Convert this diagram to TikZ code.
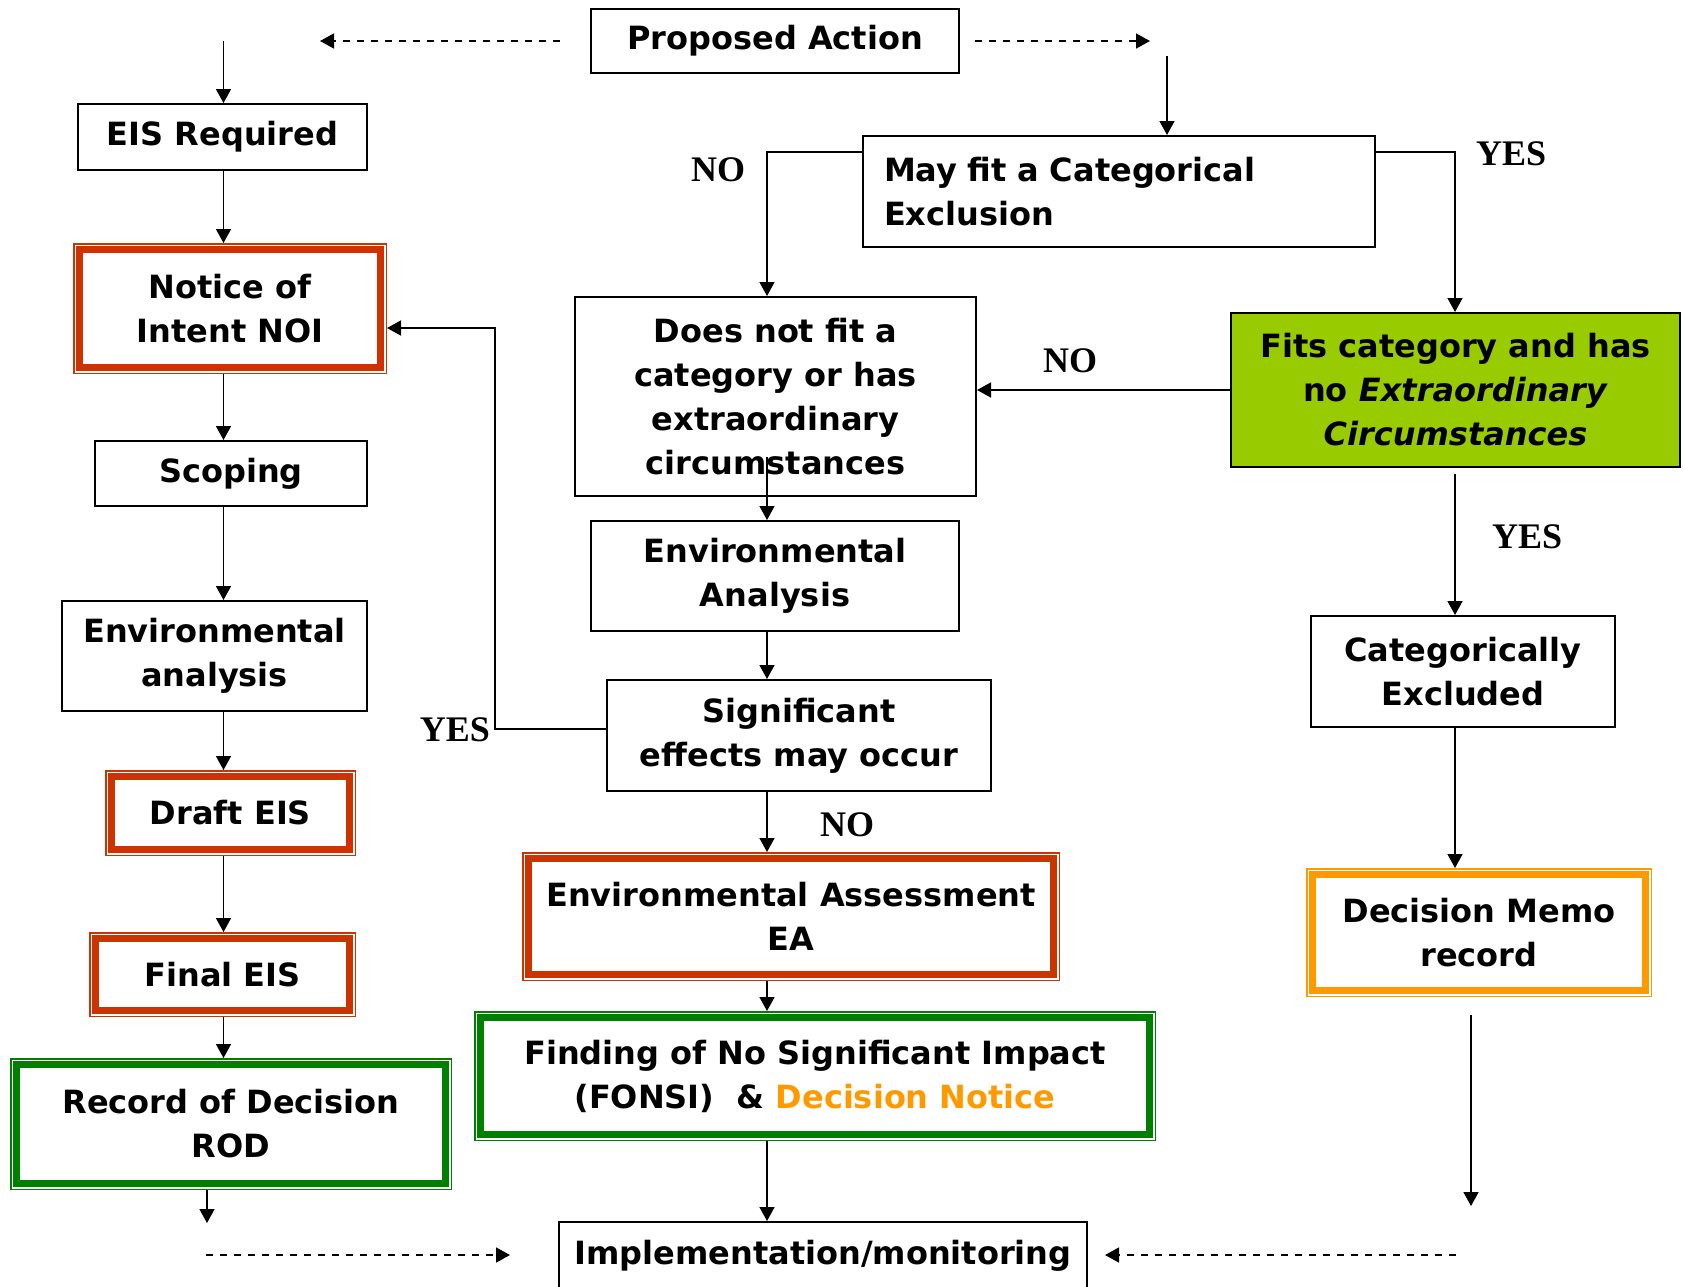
\documentclass[tikz,border=0pt]{standalone}
\usepackage{fontspec}
\setmainfont{DejaVu Sans}
\newfontfamily\labelfont{Liberation Serif}
\usetikzlibrary{arrows.meta,calc}

\definecolor{eisred}{RGB}{204,51,0}
\definecolor{rodgreen}{RGB}{0,128,0}
\definecolor{memoorange}{RGB}{255,153,0}
\definecolor{fitsgreen}{RGB}{153,204,0}

\tikzset{
  flowbox/.style={draw, line width=1pt, fill=white, inner sep=4pt, align=center,
    font=\fontsize{16}{22}\selectfont\bfseries},
  dblbox/.style={flowbox, draw=#1, line width=3.5pt, outer sep=3.25pt,
    preaction={draw=#1, line width=6.5pt},
    preaction={draw=white, line width=5pt}},
  link/.style={line width=0.75pt, -{Triangle[length=7pt,width=7.5pt]}},
  dashlink/.style={link, dash pattern=on 3.5pt off 3.5pt},
  answer/.style={font=\fontsize{18}{18}\selectfont\labelfont\bfseries}
}

\begin{document}
\begin{tikzpicture}[x=0.5pt,y=0.5pt,yscale=-1]
	\useasboundingbox (0,0) rectangle (1685,1286);
	\clip (0,0) rectangle (1685,1286);
	% top
	\node[flowbox, minimum width=184pt, minimum height=32pt] (pa) at (775,41) {Proposed Action};
	\coordinate (dashl1) at (560,41);
	\coordinate (dashl2) at (320,41);
	\coordinate (dashr1) at (975,41);
	\coordinate (dashr2) at (1150,41);
	\coordinate (eistop) at (223.5,41);
	\coordinate (cetop) at (1167,56);
	\coordinate (leftx) at (223.5,0);
	\coordinate (midx) at (767,0);
	\draw[dashlink] (dashl1) -- (dashl2);
	\draw[dashlink] (dashr1) -- (dashr2);
	% EIS column
	\node[flowbox, minimum width=144.5pt, minimum height=33pt] (eis) at (222.5,137) {EIS Required};
	\node[dblbox=eisred, minimum width=150.5pt, minimum height=59pt] (noi) at (230,308.5) {Notice of\\Intent NOI};
	\node[flowbox, minimum width=136pt, minimum height=32.5pt] (scoping) at (231,473.5) {Scoping};
	\node[flowbox, minimum width=152.5pt, minimum height=55pt] (envan) at (214.5,656) {Environmental\\analysis};
	\node[dblbox=eisred, minimum width=119pt, minimum height=36.5pt] (draft) at (230.5,813) {Draft EIS};
	\node[dblbox=eisred, minimum width=127pt, minimum height=36pt] (final) at (222.5,974.5) {Final EIS};
	\node[dblbox=rodgreen, minimum width=214.5pt, minimum height=59.5pt] (rod) at (231,1124) {Record of Decision\\ROD};
	\coordinate (rodout) at (207,1223);
	\draw[link] (eistop) -- (eistop |- eis.north);
	\draw[link] (eis.south -| leftx) -- (noi.north -| leftx);
	\draw[link] (noi.south -| leftx) -- (scoping.north -| leftx);
	\draw[link] (scoping.south -| leftx) -- (envan.north -| leftx);
	\draw[link] (envan.south -| leftx) -- (draft.north -| leftx);
	\draw[link] (draft.south -| leftx) -- (final.north -| leftx);
	\draw[link] (final.south -| leftx) -- (rod.north -| leftx);
	\draw[link] (rod.south -| rodout) -- (rodout);
	% EA column
	\node[flowbox, align=left, text width=235pt, inner xsep=10.5pt, minimum height=55.5pt] (mayfit) at (1119,191.5) {May fit a Categorical\\Exclusion};
	\node[flowbox, minimum width=200.5pt, minimum height=99.5pt] (dnf) at (775.5,396.5) {Does not fit a\\category or has\\extraordinary\\circumstances};
	\node[flowbox, minimum width=184pt, minimum height=55pt] (envanal) at (775,576) {Environmental\\Analysis};
	\node[flowbox, minimum width=192pt, minimum height=55.5pt] (signif) at (799,735.5) {Significant\\effects may occur};
	\node[dblbox=eisred, minimum width=262.5pt, minimum height=58pt] (ea) at (791,916.5) {Environmental Assessment\\EA};
	\node[dblbox=rodgreen, minimum width=334.5pt, minimum height=58.5pt] (fonsi) at (815,1076) {Finding of No Significant Impact\\(FONSI)~ \& \textcolor{memoorange}{Decision Notice}};
	\node[flowbox, minimum width=264pt, minimum height=34pt] (impl) at (823,1256) {Implementation/monitoring};
	\coordinate (noturn) at (767,152);
	\coordinate (yesturn) at (1455,152);
	\coordinate (yesup) at (495,729);
	\coordinate (noiin) at (495,328);
	\draw[link] (cetop) -- (cetop |- mayfit.north);
	\draw[link] (mayfit.west |- noturn) -- (noturn) -- (noturn |- dnf.north);
	\draw[link] ($(dnf.south -| midx)+(0,-40)$) -- (envanal.north -| midx);
	\draw[link] (envanal.south -| midx) -- (signif.north -| midx);
	\draw[link] (signif.south -| midx) -- (ea.north -| midx);
	\draw[link] (ea.south -| midx) -- (fonsi.north -| midx);
	\draw[link] (fonsi.south -| midx) -- (impl.north -| midx);
	\draw[link] (signif.west |- yesup) -- (yesup) -- (noiin) -- (noi.east |- noiin);
	% CE column
	\node[flowbox, fill=fitsgreen, minimum width=224.5pt, minimum height=77pt] (fits) at (1455.5,390) {Fits category and has\\no \textit{Extraordinary}\\\textit{Circumstances}};
	\node[flowbox, minimum width=152pt, minimum height=55.5pt] (catex) at (1463,671.5) {Categorically\\Excluded};
	\node[dblbox=memoorange, minimum width=166.5pt, minimum height=58pt] (memo) at (1479,932.5) {Decision Memo\\record};
	\coordinate (memoout1) at (1471,1015);
	\coordinate (memoout2) at (1471,1206);
	\draw[link] (mayfit.east |- yesturn) -- (yesturn) -- (yesturn |- fits.north);
	\draw[link] (fits.west) -- (dnf.east |- fits.west);
	\draw[link] ($(fits.south -| yesturn)+(0,6)$) -- (catex.north -| yesturn);
	\draw[link] (catex.south -| yesturn) -- (memo.north -| yesturn);
	\draw[link] (memoout1) -- (memoout2);
	% bottom
	\coordinate (dashb1) at (206,1255);
	\coordinate (dashb2) at (510,1255);
	\coordinate (dashb3) at (1456,1255);
	\coordinate (dashb4) at (1105,1255);
	\draw[dashlink] (dashb1) -- (dashb2);
	\draw[dashlink] (dashb3) -- (dashb4);
	% answers
	\node[answer] (no1) at (718,170) {NO};
	\node[answer] (yes1) at (1511,154) {YES};
	\node[answer] (no2) at (1070,361) {NO};
	\node[answer] (yes2) at (455,730) {YES};
	\node[answer] (no3) at (847,825) {NO};
	\node[answer] (yes3) at (1527,537) {YES};
\end{tikzpicture}
\end{document}
